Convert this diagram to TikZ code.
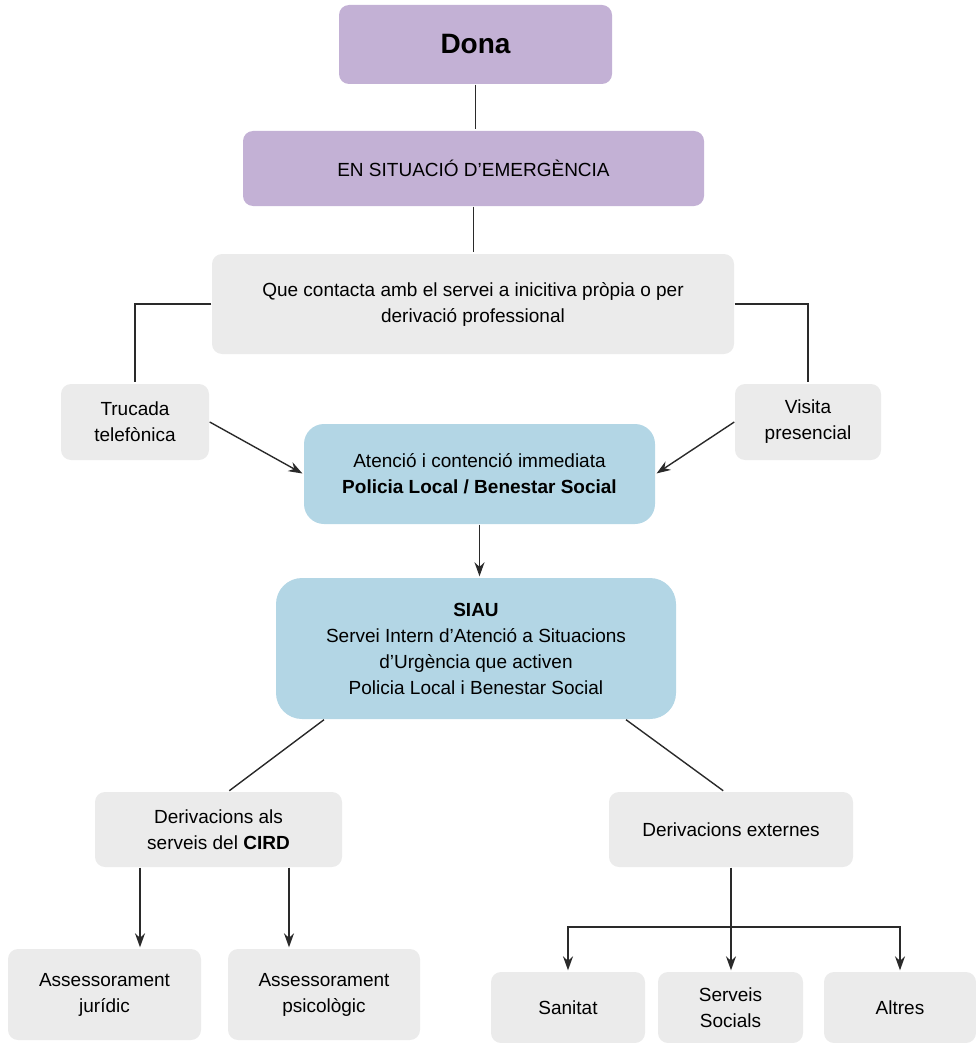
\documentclass[tikz,border=0pt]{standalone}
\usepackage{fontspec}
\setmainfont{Liberation Sans}
\usepackage{tikz}
\usetikzlibrary{arrows.meta,positioning}

\definecolor{lila}{HTML}{C3B1D5}
\definecolor{blau}{HTML}{B3D6E5}
\definecolor{gris}{HTML}{EBEBEB}
\definecolor{linia}{HTML}{2A2A2A}

\begin{document}
\begin{tikzpicture}[x=1pt,y=-1pt,-,>={Stealth[length=14pt,width=10pt]},shorten >=1pt,
                    line width=1.4pt,draw=linia]
  \tikzstyle{every node}=[font=\fontsize{19}{26}\selectfont,align=center,inner sep=0pt,text=black]
  \tikzstyle{every edge}=[draw=linia,line width=1.4pt]
  \tikzstyle{lila box}=[fill=lila,rounded corners=10pt]
  \tikzstyle{blau box}=[fill=blau,rounded corners=20pt]
  \tikzstyle{gris box}=[fill=gris,rounded corners=10pt]

  \useasboundingbox (0,0) rectangle (976,1043);

  \node[lila box,minimum width=273pt,minimum height=79pt,font=\bfseries\fontsize{28}{30}\selectfont] (dona) at (475.5,44.5) {Dona};
  \node[lila box,minimum width=461pt,minimum height=75pt] (emerg) at (473.5,168.5) {EN SITUACIÓ D’EMERGÈNCIA};
  \node[gris box,minimum width=522pt,minimum height=100pt] (contacte) at (473,304)
       {Que contacta amb el servei a inicitiva pròpia o per\\derivació professional};
  \node[gris box,minimum width=148pt,minimum height=76pt] (trucada) at (135,422) {Trucada\\telefònica};
  \node[gris box,minimum width=146pt,minimum height=76pt] (visita) at (808,422) {Visita\\presencial};
  \node[blau box,minimum width=351pt,minimum height=100pt] (atencio) at (479.5,474)
       {Atenció i contenció immediata\\\textbf{Policia Local / Benestar Social}};
  \node[blau box,rounded corners=26pt,minimum width=400pt,minimum height=141pt] (siau) at (476,648.5)
       {\textbf{SIAU}\\Servei Intern d’Atenció a Situacions\\d’Urgència que activen\\Policia Local i Benestar Social};
  \node[gris box,minimum width=247pt,minimum height=75pt] (cird) at (218.5,829.5) {Derivacions als\\serveis del \textbf{CIRD}};
  \node[gris box,minimum width=244pt,minimum height=75pt] (externes) at (731,829.5) {Derivacions externes};
  \node[gris box,minimum width=193pt,minimum height=91pt] (juridic) at (104.5,994.5) {Assessorament\\jurídic};
  \node[gris box,minimum width=192pt,minimum height=91pt] (psico) at (324,994.5) {Assessorament\\psicològic};
  \node[gris box,minimum width=154pt,minimum height=71pt] (sanitat) at (568,1007.5) {Sanitat};
  \node[gris box,minimum width=145pt,minimum height=71pt] (serveis) at (730.5,1007.5) {Serveis\\Socials};
  \node[gris box,minimum width=152pt,minimum height=71pt] (altres) at (900,1007.5) {Altres};

  \coordinate (jur) at ([xshift=-78.5pt]cird.south);
  \coordinate (psi) at ([xshift=70.5pt]cird.south);
  \coordinate (branca) at (externes.south |- 0,927);

  \path (dona.south) edge (dona.south |- emerg.north)
        (emerg.south) edge (emerg.south |- contacte.north)
        (trucada.east) edge[->] (atencio.west)
        (visita.west) edge[->] (atencio.east)
        (atencio.south) edge[->] (atencio.south |- siau.north)
        ([xshift=-152pt]siau.south) edge ([xshift=10pt]cird.north)
        ([xshift=150pt]siau.south) edge ([xshift=-7pt]externes.north)
        (jur) edge[->] (jur |- juridic.north)
        (psi) edge[->] (psi |- psico.north)
        (externes.south) edge[->] (externes.south |- serveis.north);

  \draw (contacte.west) -| (trucada.north);
  \draw (contacte.east) -| (visita.north);
  \draw[->] (branca) -| (sanitat.north);
  \draw[->] (branca) -| (altres.north);
\end{tikzpicture}
\end{document}
